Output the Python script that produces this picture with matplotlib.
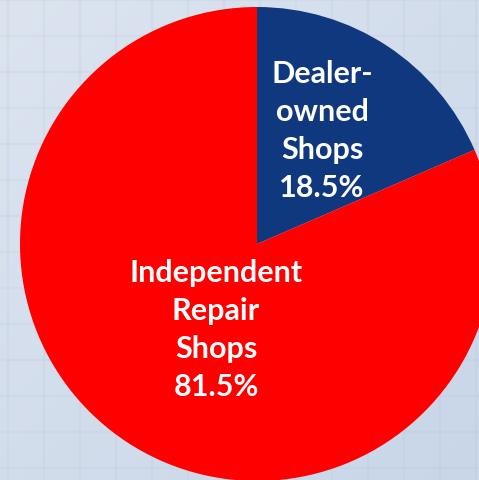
import numpy as np
import matplotlib.pyplot as plt

labels = ['Dealer-\nowned\nShops', 'Independent\nRepair\nShops']
shares = [18.5, 81.5]
colors = ['#10387F', '#FF0000']

W, H = 479, 481
fig = plt.figure(figsize=(W / 100, H / 100), dpi=100)
ax = fig.add_axes([0, 0, 1, 1])

# background: soft blue-grey gradient with faint grid
yy, xx = np.mgrid[0:1:200j, 0:1:200j]
grad = 0.5 * xx + 0.5 * yy
top = np.array([0.866, 0.894, 0.941])
bot = np.array([0.785, 0.840, 0.910])
img = top[None, None, :] * (1 - grad[..., None]) + bot[None, None, :] * grad[..., None]
ax.imshow(img, extent=[0, W, 0, H], origin='upper', zorder=0, aspect='auto')
for gx in np.arange(8, W, 36):
    ax.axvline(gx, color='#b8c6da', lw=1.5, alpha=0.2, zorder=1)
for gy in np.arange(12, H, 36):
    ax.axhline(gy, color='#b8c6da', lw=1.5, alpha=0.2, zorder=1)

wedges, _ = ax.pie(shares, colors=colors, startangle=90, counterclock=False,
                   center=(257, H - 245), radius=237, frame=True,
                   wedgeprops=dict(linewidth=0, zorder=2))
ax.set_xlim(0, W)
ax.set_ylim(0, H)
ax.axis('off')

font = dict(family=['Lato', 'DejaVu Sans'], weight='bold', color='white',
            fontsize=22, ha='center', va='center', linespacing=1.43, zorder=3)
ax.text(322, H - 131, f'{labels[0]}\n{shares[0]:.1f}%', **font)
ax.text(216, H - 330, f'{labels[1]}\n{shares[1]:.1f}%', **font)

fig.savefig('out.png', dpi=100)
